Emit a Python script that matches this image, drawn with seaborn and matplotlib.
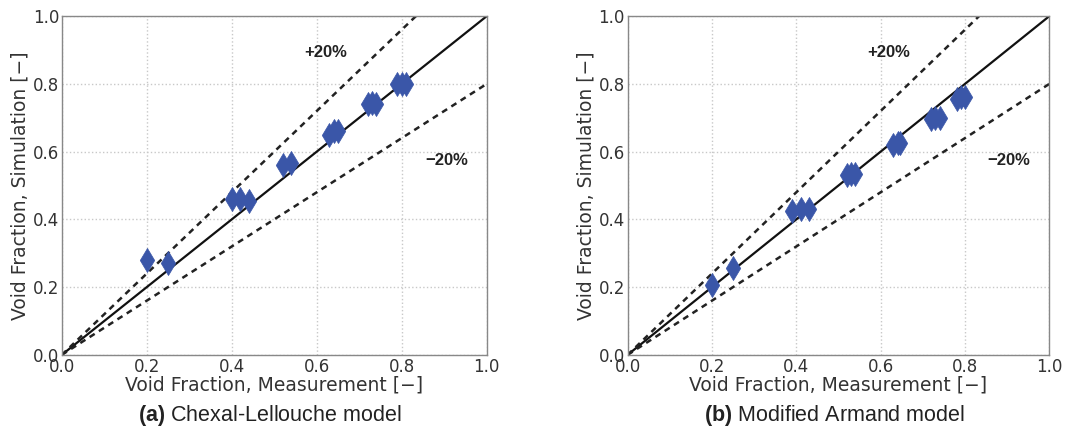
import matplotlib
matplotlib.use("Agg")
import matplotlib.pyplot as plt
import seaborn as sns
import numpy as np
import pandas as pd

# Panel (a) Chexal-Lellouche model
meas_a = [0.20, 0.25, 0.40, 0.42, 0.44, 0.52, 0.54, 0.63, 0.64, 0.65, 0.72, 0.73, 0.74, 0.79, 0.80, 0.81]
sim_a = [0.28, 0.27, 0.46, 0.46, 0.455, 0.56, 0.565, 0.65, 0.66, 0.66, 0.74, 0.745, 0.74, 0.80, 0.80, 0.80]

# Panel (b) Modified Armand model
meas_b = [0.20, 0.25, 0.39, 0.41, 0.43, 0.52, 0.53, 0.54, 0.63, 0.64, 0.645, 0.72, 0.73, 0.74, 0.78, 0.79, 0.80]
sim_b = [0.205, 0.255, 0.425, 0.43, 0.43, 0.53, 0.535, 0.535, 0.62, 0.625, 0.625, 0.695, 0.70, 0.70, 0.755, 0.76, 0.76]

captions = [("(a)", "Chexal-Lellouche model"), ("(b)", "Modified Armand model")]
tick_vals = [0.0, 0.2, 0.4, 0.6, 0.8, 1.0]
tick_labels = ["0.0", "0.2", "0.4", "0.6", "0.8", "1.0"]
band_labels = ["+20%", "\u221220%"]

sns.set_style("white")
plt.rcParams['font.family'] = ['DejaVu Sans']
plt.rcParams['mathtext.fontset'] = 'custom'
plt.rcParams['mathtext.bf'] = 'Liberation Sans:bold'
plt.rcParams['mathtext.rm'] = 'Liberation Sans'

fig = plt.figure(figsize=(10.84, 4.37), dpi=100)
axes = [fig.add_axes([0.057, 0.188, 0.392, 0.775]),
        fig.add_axes([0.579, 0.188, 0.389, 0.775])]

datasets = [(meas_a, sim_a), (meas_b, sim_b)]
line_x = np.array([0.0, 1.0])
for ax, (mx, sy), (cap_b, cap_r) in zip(axes, datasets, captions):
    ax.set_xlim(0, 1)
    ax.set_ylim(0, 1)
    ax.grid(True, color="#c8c8c8", linestyle=":", linewidth=1.0)
    ax.set_axisbelow(True)
    ax.plot(line_x, line_x, color="#111111", lw=1.6, zorder=2)
    ax.plot(line_x, 1.2 * line_x, color="#222222", lw=1.8, ls=(0, (2.4, 2.0)), zorder=2)
    ax.plot(line_x, 0.8 * line_x, color="#222222", lw=1.8, ls=(0, (2.4, 2.0)), zorder=2)
    df = pd.DataFrame({"m": mx, "s": sy})
    sns.scatterplot(data=df, x="m", y="s", ax=ax, marker="d", s=150,
                    color="#3a56a8", edgecolor="#3a56a8", linewidth=0.5, zorder=3)
    ax.set_xticks(tick_vals)
    ax.set_xticklabels(tick_labels)
    ax.set_yticks(tick_vals)
    ax.set_yticklabels(tick_labels)
    ax.tick_params(labelsize=12, colors="#333333", length=0, pad=2)
    ax.set_xlabel("Void Fraction, Measurement [\u2212]", fontsize=13.5, color="#333333", labelpad=0)
    ax.set_ylabel("Void Fraction, Simulation [\u2212]", fontsize=13.5, color="#333333", labelpad=2)
    for sp in ax.spines.values():
        sp.set_color("#888888")
        sp.set_linewidth(1.0)
    ax.text(0.62, 0.893, band_labels[0], fontsize=12, fontweight="bold",
            family="Liberation Sans", ha="center", va="center", color="#222222")
    ax.text(0.905, 0.575, band_labels[1], fontsize=12, fontweight="bold",
            family="Liberation Sans", ha="center", va="center", color="#222222")
    ax.text(0.49, -0.178, r"$\mathbf{" + cap_b + "}$ " + cap_r, transform=ax.transAxes,
            ha="center", va="center", fontsize=15.5, family="Liberation Sans",
            color="#222222")

fig.savefig("out.png", dpi=100)
